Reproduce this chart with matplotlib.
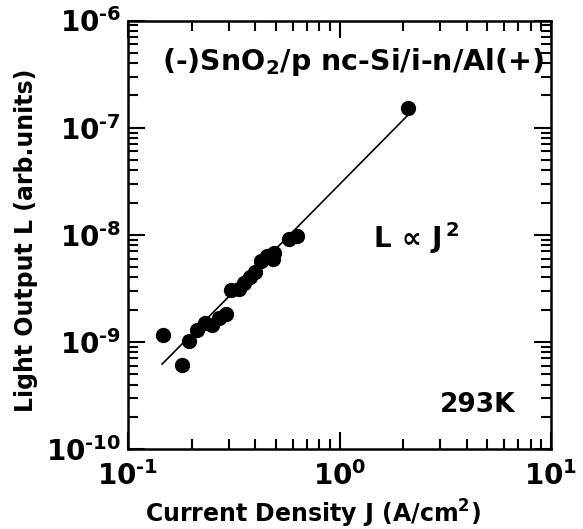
import numpy as np
import matplotlib
matplotlib.use("Agg")
import matplotlib.pyplot as plt
from matplotlib.ticker import LogLocator, FuncFormatter, NullFormatter

plt.rcParams['font.family'] = ['DejaVu Sans']
plt.rcParams['font.weight'] = 'bold'
plt.rcParams['mathtext.fontset'] = 'custom'
plt.rcParams['mathtext.rm'] = 'DejaVu Sans:bold'
plt.rcParams['mathtext.it'] = 'DejaVu Sans:bold'
plt.rcParams['mathtext.bf'] = 'DejaVu Sans:bold'
plt.rcParams['mathtext.default'] = 'regular'

# Measured current density (A/cm^2) and light output (arb. units)
current_density = [0.1456, 0.181, 0.1953, 0.212, 0.2312, 0.2495, 0.2694, 0.2906,
                   0.3085, 0.3331, 0.3536, 0.3754, 0.3986, 0.4232, 0.4518, 0.4875,
                   0.4822, 0.580, 0.6295, 2.097]
light_output = [1.16e-9, 6.07e-10, 1.02e-9, 1.30e-9, 1.51e-9, 1.435e-9, 1.67e-9, 1.84e-9,
                3.08e-9, 3.11e-9, 3.58e-9, 4.03e-9, 4.53e-9, 5.68e-9, 6.39e-9, 6.75e-9,
                5.99e-9, 9.12e-9, 9.72e-9, 1.52e-7]

# Quadratic law L = A * J^2 drawn over the measured range
fit_prefactor = 2.95e-8
fit_exponent = 2.0
fit_range = [0.145, 2.15]


def decade_label(value, pos):
    exp = int(round(np.log10(value)))
    sign = '\u2010' if exp < 0 else ''
    return r'$10^{%s%d}$' % (sign, abs(exp))


fig = plt.figure(figsize=(5.83, 5.29), dpi=100)
ax = fig.add_axes([128 / 583, 1 - 449 / 529, (551 - 128) / 583, (449 - 20.5) / 529])

jf = np.logspace(np.log10(fit_range[0]), np.log10(fit_range[1]), 50)
ax.plot(jf, fit_prefactor * jf ** fit_exponent, color='black', lw=1.2, zorder=2)
ax.plot(current_density, light_output, 'o', color='black', ms=10, zorder=3)

ax.set_xscale('log')
ax.set_yscale('log')
ax.set_xlim(0.1, 10)
ax.set_ylim(1e-10, 1e-6)

for axis in (ax.xaxis, ax.yaxis):
    axis.set_major_locator(LogLocator(base=10, numticks=10))
    axis.set_minor_locator(LogLocator(base=10, subs=np.arange(2, 10), numticks=10))
    axis.set_major_formatter(FuncFormatter(decade_label))
    axis.set_minor_formatter(NullFormatter())

ax.tick_params(which='both', direction='in', top=True, right=True, width=1.5, color='black')
ax.tick_params(which='major', length=12, labelsize=20, pad=5)
ax.tick_params(which='minor', length=7)
ax.tick_params(axis='x', which='major', pad=9)
for lab in ax.get_xticklabels() + ax.get_yticklabels():
    lab.set_fontweight('bold')
for s in ax.spines.values():
    s.set_linewidth(1.8)

ax.set_xlabel('Current Density J (A/cm$^{2}$)', fontsize=17, fontweight='bold')
ax.xaxis.set_label_coords(0.437, -0.115)
ax.set_ylabel('Light Output L (arb.units)', fontsize=17, fontweight='bold')
ax.yaxis.set_label_coords(-0.213, 0.487)

ax.text(0.532, 0.903, '(-)SnO$_{2}$/p nc-Si/i-n/Al(+)', transform=ax.transAxes,
        fontsize=20.5, fontweight='bold', ha='center', va='center')
ax.text(0.681, 0.492, r'L$\,\propto\,$J$^{\,2}$', transform=ax.transAxes,
        fontsize=20, fontweight='bold', ha='center', va='center')
ax.text(0.827, 0.103, '293K', transform=ax.transAxes,
        fontsize=19, fontweight='bold', ha='center', va='center')

fig.savefig('out.png', dpi=100)
